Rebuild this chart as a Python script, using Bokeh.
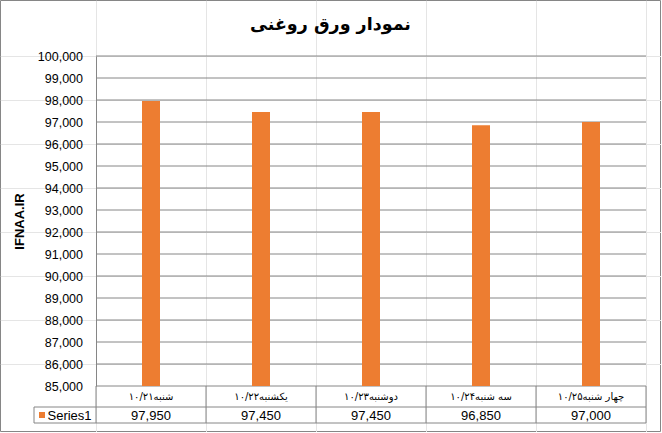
from bokeh.plotting import figure
from bokeh.models import Range1d, FixedTicker, NumeralTickFormatter, LinearAxis
from bokeh.core.properties import value
from bokeh.embed import file_html
from bokeh.resources import INLINE

# ---- data ----
title_text = "نمودار ورق روغنی"
y_label = "IFNAA.IR"
series_name = "Series1"
categories = ["شنبه۱۰/۲۱", "یکشنبه۱۰/۲۲", "دوشنبه۱۰/۲۳", "سه شنبه۱۰/۲۴", "چهار شنبه۱۰/۲۵"]
values = [97950, 97450, 97450, 96850, 97000]
y_ticks = list(range(85000, 100001, 1000))
value_labels = [f"{v:,}" for v in values]

# ---- styling / layout (screen pixels inside the canvas) ----
GRAY = "#868686"
ORANGE = "#ED7D31"
TXT = "#000000"
W, H = 661, 432
CW = 110          # px per category
UPK = 22          # px per y tick step
AX_X = 95.5       # x of the value axis
TOP_Y = 55.5      # y of the top gridline
ROW1, ROW2 = 21, 16
KEY_X = 33.5      # left edge of the legend-key cell

n = len(categories)
step = y_ticks[1] - y_ticks[0]
xs = [i + 0.5 for i in range(n)]
edges = list(range(n + 1))


def X(px):
    return (px - AX_X) / CW


def Y(py):
    return y_ticks[-1] - (py - TOP_Y) * step / UPK


base_py = TOP_Y + UPK * (len(y_ticks) - 1)
row1_bot = Y(base_py + ROW1)
row2_bot = Y(base_py + ROW1 + ROW2)
row1_mid = Y(base_py + ROW1 / 2)
row2_mid = Y(base_py + ROW1 + ROW2 / 2)

p = figure(width=W, height=H, x_range=Range1d(X(0), X(W)), y_range=Range1d(Y(H), Y(0)),
           min_border=0, x_axis_location=None, y_axis_location=None,
           toolbar_location=None, output_backend="svg")
p.outline_line_color = GRAY
p.background_fill_color = "white"
p.border_fill_color = "white"

# gridlines
p.segment(x0=0, x1=n, y0=y_ticks, y1=y_ticks, line_color=GRAY, line_width=1)

# bars
p.vbar(x=xs, top=values, bottom=y_ticks[0], width=18 / CW,
       fill_color=ORANGE, line_color=None)

# value axis
ya = LinearAxis(fixed_location=0, bounds=(y_ticks[0], y_ticks[-1]),
                ticker=FixedTicker(ticks=y_ticks),
                formatter=NumeralTickFormatter(format="0,0"))
ya.major_tick_out = 0
ya.major_tick_in = 0
ya.minor_tick_out = 0
ya.minor_tick_in = 0
ya.axis_line_color = GRAY
ya.major_label_text_font = "Liberation Sans"
ya.major_label_text_font_size = "12.5px"
ya.major_label_text_color = TXT
ya.major_label_standoff = 13
ya.axis_label = y_label
ya.axis_label_text_font = "Liberation Sans"
ya.axis_label_text_font_size = "13px"
ya.axis_label_text_font_style = "bold"
ya.axis_label_text_color = TXT
ya.axis_label_standoff = 8
p.add_layout(ya, "left")

# ---- data table ----
key_l = X(KEY_X)
p.segment(x0=[key_l, key_l], x1=[n, n], y0=[row1_bot, row2_bot], y1=[row1_bot, row2_bot],
          line_color=GRAY, line_width=1)
p.segment(x0=edges, x1=edges, y0=y_ticks[0], y1=row2_bot, line_color=GRAY, line_width=1)
p.segment(x0=[key_l], x1=[key_l], y0=[row1_bot], y1=[row2_bot], line_color=GRAY, line_width=1)

p.text(x=xs, y=[row1_mid] * n, text=categories, text_font=value("DejaVu Sans"),
       text_font_size="10px", text_align="center", text_baseline="middle", text_color=TXT)
p.text(x=xs, y=[row2_mid] * n, text=value_labels, text_font=value("Liberation Sans"),
       text_font_size="13px", text_align="center", text_baseline="middle", text_color=TXT)

# legend key
p.scatter(x=[X(KEY_X + 8)], y=[row2_mid], marker="square", size=6,
          fill_color=ORANGE, line_color=None)
p.text(x=[X(KEY_X + 13.5)], y=[row2_mid], text=[series_name],
       text_font=value("Liberation Sans"), text_font_size="13px",
       text_align="left", text_baseline="middle", text_color=TXT)

# title
p.text(x=[X(330)], y=[Y(23)], text=[title_text], text_font=value("DejaVu Sans"),
       text_font_size="17.5px", text_font_style="bold", text_align="center",
       text_baseline="middle", text_color=TXT)

open("out.html", "w").write(file_html(p, INLINE))
